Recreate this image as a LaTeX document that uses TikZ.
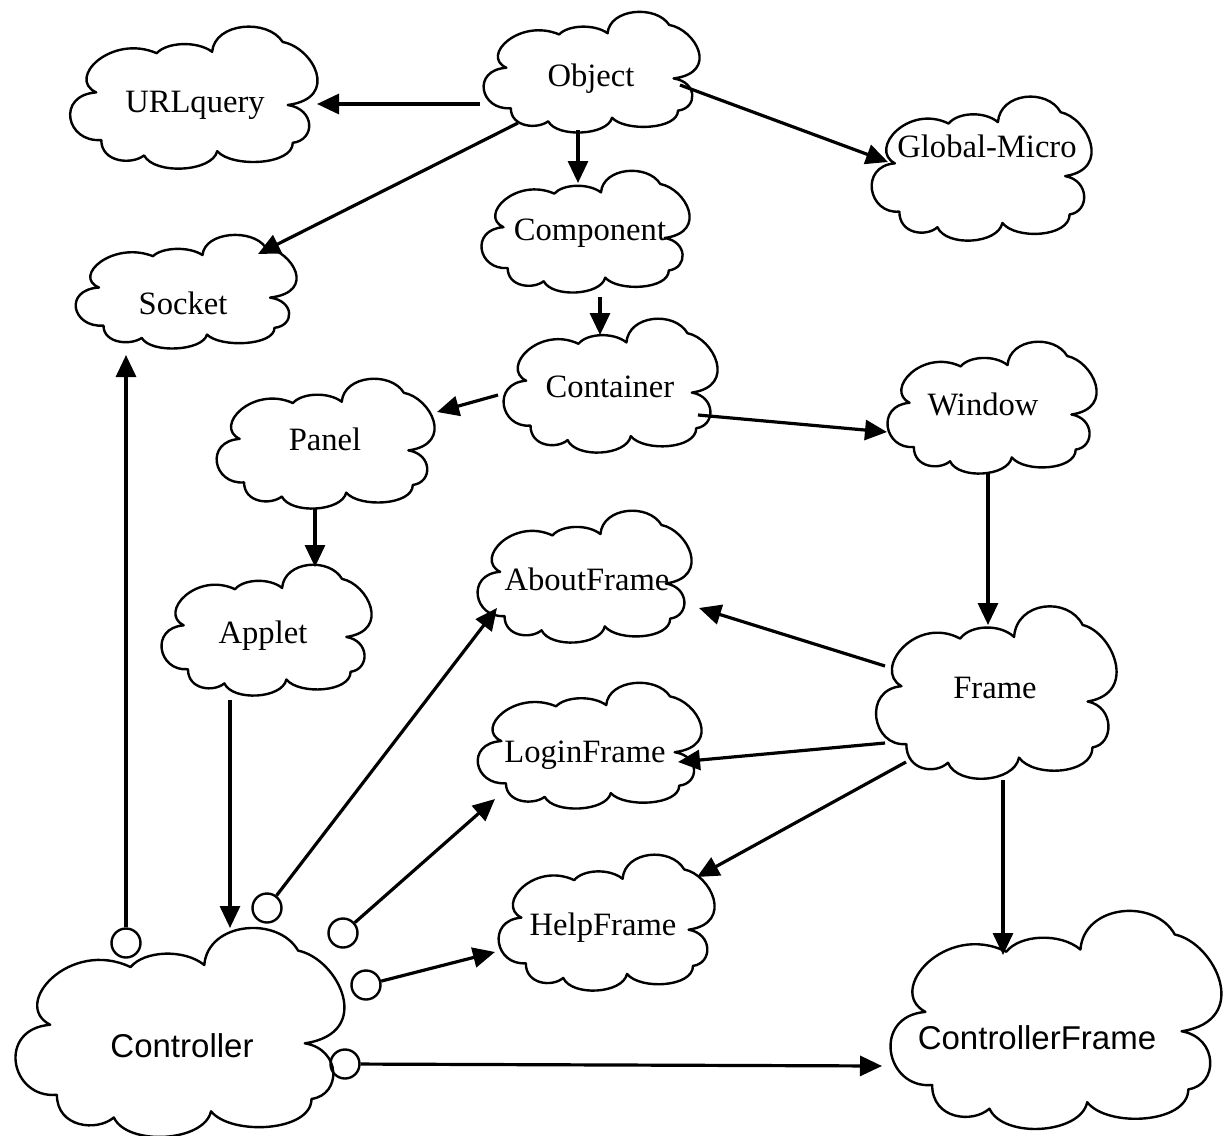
\documentclass[tikz,border=0pt]{standalone}
\usepackage{fontspec}
\setmainfont{Liberation Serif}
\setsansfont{Liberation Sans}
\usetikzlibrary{arrows.meta,calc}
\tikzset{
  cloudline/.style={line width=1.2pt, line join=round},
  pics/cloudpic/.style={code={
    \draw[cloudline] (0.12,0.46)
      .. controls (0,0.36) and (0.18,0.04) .. (0.36,0.18)
      .. controls (0.40,0.10) and (0.52,0.09) .. (0.58,0.17)
      .. controls (0.59,-0.04) and (0.80,-0.07) .. (0.86,0.10)
      .. controls (0.98,0.14) and (1.09,0.50) .. (0.88,0.55)
      .. controls (0.99,0.58) and (0.99,0.80) .. (0.90,0.82)
      .. controls (0.90,0.98) and (0.66,1.0) .. (0.60,0.88)
      .. controls (0.58,1.03) and (0.35,1.05) .. (0.31,0.91)
      .. controls (0.26,0.98) and (0.14,0.96) .. (0.14,0.80)
      .. controls (0,0.82) and (-0.04,0.48) .. (0.12,0.46) -- cycle;
  }},
  lbl/.style={font=\fontsize{16.3}{19}\selectfont, inner sep=0pt, text height=10.8pt, text depth=0pt},
  slbl/.style={font=\sffamily\fontsize{16.5}{19}\selectfont, inner sep=0pt, text height=11.8pt, text depth=0pt},
  arr/.style={line width=1.6pt, -{Triangle[length=11pt,width=10pt]}},
  lolli/.style={circle, draw, line width=1.2pt, minimum size=14.5pt, inner sep=0pt},
}
\begin{document}
\begin{tikzpicture}[x=0.5pt, y=-0.5pt]
\useasboundingbox (0,0) rectangle (1223,1136);

% cloud outlines
\pic[xscale=220, yscale=119] at (480,13)  {cloudpic};
\pic[xscale=252, yscale=140] at (66,28)   {cloudpic};
\pic[xscale=224, yscale=142] at (868,98)  {cloudpic};
\pic[xscale=212, yscale=120] at (478,172) {cloudpic};
\pic[xscale=225, yscale=112] at (72,236)  {cloudpic};
\pic[xscale=218, yscale=132] at (500,320) {cloudpic};
\pic[xscale=213, yscale=130] at (884,343) {cloudpic};
\pic[xscale=222, yscale=128] at (213,380) {cloudpic};
\pic[xscale=214, yscale=129] at (158,566) {cloudpic};
\pic[xscale=218, yscale=130] at (474,512) {cloudpic};
\pic[xscale=245, yscale=170] at (872,608) {cloudpic};
\pic[xscale=228, yscale=124] at (474,684) {cloudpic};
\pic[xscale=220, yscale=134] at (495,856) {cloudpic};
\pic[xscale=335, yscale=206] at (10,930)  {cloudpic};
\pic[xscale=337, yscale=215] at (885,913) {cloudpic};

% class names
\node[lbl] (obj)    at (591,76)   {Object};
\node[lbl] (url)    at (195,102)  {URLquery};
\node[lbl] (glob)   at (987,147)  {Global-Micro};
\node[lbl] (comp)   at (590,230)  {Component};
\node[lbl] (sock)   at (183,304)  {Socket};
\node[lbl] (cont)   at (610,387)  {Container};
\node[lbl] (win)    at (983,405)  {Window};
\node[lbl] (panel)  at (325,440)  {Panel};
\node[lbl] (applet) at (263,633)  {Applet};
\node[lbl] (about)  at (587,580)  {AboutFrame};
\node[lbl] (frame)  at (995,688)  {Frame};
\node[lbl] (login)  at (585,752)  {LoginFrame};
\node[lbl] (help)   at (603,925)  {HelpFrame};
\node[slbl] (ctrl)  at (182,1046) {Controller};
\node[slbl] (cframe) at (1037,1038) {ControllerFrame};

% interface sockets of the controller
\node[lolli] (lp1) at (126,943)  {};
\node[lolli] (lp2) at (267,908)  {};
\node[lolli] (lp3) at (343,933)  {};
\node[lolli] (lp4) at (366,985)  {};
\node[lolli] (lp5) at (345,1064) {};

% inheritance arrows
\draw[arr] ($(obj)+(-111,28)$) -- ($(url)+(122,2)$);
\draw[arr] ($(obj)+(-73,47)$) -- ($(sock)+(75,-50)$);
\draw[arr] ($(obj)+(-13,54)$) -- ($(comp)+(-12,-47)$);
\draw[arr] ($(obj)+(89,9)$) -- ($(glob)+(-99,15)$);
\draw[arr] ($(comp)+(10,67)$) -- ($(cont)+(-10,-52)$);
\draw[arr] ($(cont)+(-112,8)$) -- ($(panel)+(112,-28)$);
\draw[arr] ($(cont)+(88,28)$) -- ($(win)+(-96,27)$);
\draw[arr] ($(win)+(5,67)$) -- ($(frame)+(-7,-63)$);
\draw[arr] ($(panel)+(-10,68)$) -- ($(applet)+(52,-66)$);
\draw[arr] ($(frame)+(-110,-22)$) -- ($(about)+(112,28)$);
\draw[arr] ($(frame)+(-110,55)$) -- ($(login)+(93,10)$);
\draw[arr] ($(frame)+(-89,74)$) -- ($(help)+(94,-48)$);
\draw[arr] ($(frame)+(8,92)$) -- ($(cframe)+(-34,-83)$);
\draw[arr] ($(applet)+(-33,67)$) -- ($(ctrl)+(48,-118)$);

% usage links from the controller
\draw[arr] (lp1) -- ($(sock)+(-57,51)$);
\draw[arr] (lp2) -- ($(about)+(-90,28)$);
\draw[arr] (lp3) -- ($(login)+(-90,47)$);
\draw[arr] (lp4) -- ($(help)+(-108,27)$);
\draw[arr] (lp5) -- ($(cframe)+(-155,28)$);
\end{tikzpicture}
\end{document}
